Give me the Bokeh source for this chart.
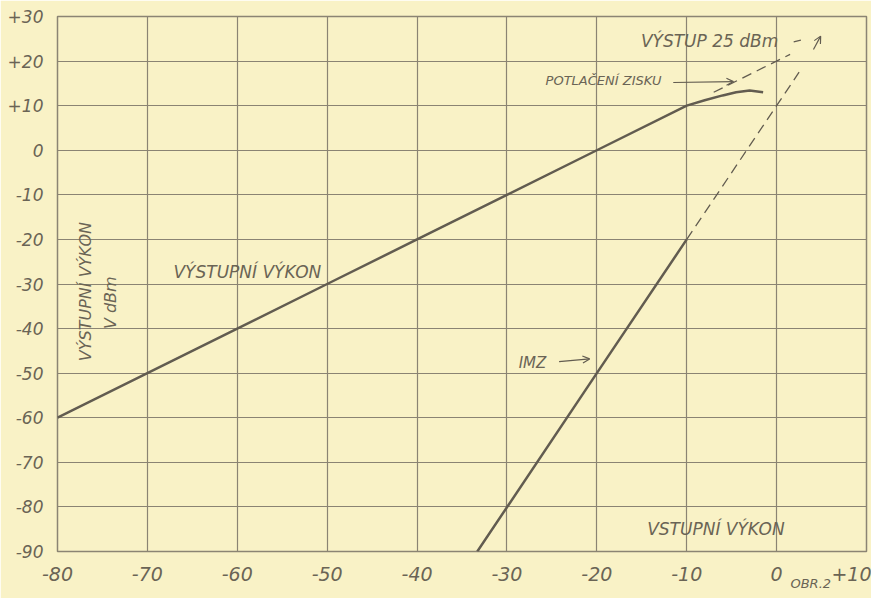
import math
from bokeh.plotting import figure
from bokeh.models import Range1d, FixedTicker, Label, Arrow, OpenHead, LinearAxis
from bokeh.embed import file_html
from bokeh.resources import INLINE

# ---- data ----
x_ticks = [-80, -70, -60, -50, -40, -30, -20, -10, 0, 10]
y_ticks = [-90, -80, -70, -60, -50, -40, -30, -20, -10, 0, 10, 20, 30]
x_tick_labels = {-80: "-80", -70: "-70", -60: "-60", -50: "-50", -40: "-40", -30: "-30",
                 -20: "-20", -10: "-10", 0: "0", 10: "+10"}
y_tick_labels = {30: "+30", 20: "+20", 10: "+10", 0: "0", -10: "-10", -20: "-20", -30: "-30",
                 -40: "-40", -50: "-50", -60: "-60", -70: "-70", -80: "-80", -90: "-90"}
fig_note = {3.8: "OBR.2"}

# output power (VÝSTUPNÍ VÝKON) with gain compression
out_in = [-80, -70, -60, -50, -40, -30, -20, -10, -8, -6, -4.5, -3, -1.5]
out_pw = [-60, -50, -40, -30, -20, -10, 0, 10, 11.2, 12.3, 13.0, 13.4, 13.0]
# linear extrapolation of output (dashed)
ext_in = [-7, 1.5]
ext_pw = [13, 21.5]
# intermodulation products (IMZ)
imz_in = [-33.3, -20, -10]
imz_pw = [-90, -50, -20]
# IMZ extrapolation (dashed)
imzx_in = [-10, 0, 2.5]
imzx_pw = [-20, 10, 17.5]

BG = "#f9f2c6"
GRID = "#8b8473"
INK = "#625c50"
TXT = "#6a6455"
FONT = "DejaVu Sans"

p = figure(width=871, height=598, x_range=Range1d(-80, 10), y_range=Range1d(-90, 30),
           min_border_left=57, min_border_right=5, min_border_top=16, min_border_bottom=47,
           output_backend="svg", toolbar_location=None)
p.background_fill_color = BG
p.border_fill_color = BG
p.outline_line_color = GRID
p.outline_line_width = 1.5

note_axis = LinearAxis()
p.add_layout(note_axis, "below")

for ax, ticks, labs in ((p.xaxis[0], x_ticks, x_tick_labels), (p.yaxis[0], y_ticks, y_tick_labels),
                        (note_axis, list(fig_note.keys()), fig_note)):
    ax.ticker = FixedTicker(ticks=ticks)
    ax.major_label_overrides = labs
    ax.axis_line_color = None
    ax.major_tick_line_color = None
    ax.minor_tick_line_color = None
    ax.major_tick_out = 0
    ax.major_tick_in = 0
    ax.major_label_text_font = FONT
    ax.major_label_text_font_style = "italic"
    ax.major_label_text_color = TXT
p.xaxis[0].major_label_text_font_size = "19px"
p.yaxis[0].major_label_text_font_size = "17px"
p.xaxis[0].major_label_standoff = 15
p.yaxis[0].major_label_standoff = 14
note_axis.major_label_text_font_size = "13px"
note_axis.major_label_standoff = -8

p.xgrid.ticker = FixedTicker(ticks=x_ticks)
p.ygrid.ticker = FixedTicker(ticks=y_ticks)
for g in (p.xgrid, p.ygrid):
    g.grid_line_color = GRID
    g.grid_line_width = 1.2

p.line(out_in, out_pw, line_color=INK, line_width=2.5)
p.line(ext_in, ext_pw, line_color=INK, line_width=1.3, line_dash="10 6")
p.line(imz_in, imz_pw, line_color=INK, line_width=2.5)
p.line(imzx_in, imzx_pw, line_color=INK, line_width=1.3, line_dash="10 6")

def lab(x, y, text, size="17px", angle=0, align="left", base="middle"):
    p.add_layout(Label(x=x, y=y, text=text, angle=angle,
                       text_align=align, text_baseline=base, text_font=FONT,
                       text_font_style="italic", text_font_size=size, text_color=TXT))

lab(-67.1, -27.4, "VÝSTUPNÍ VÝKON")
lab(-15.1, 24.6, "VÝSTUP  25 dBm")
lab(-25.7, 15.6, "POTLAČENÍ ZISKU", size="13px")
lab(-28.7, -47.8, "IMZ", size="15px")
lab(-14.4, -84.9, "VSTUPNÍ  VÝKON")
lab(-76.9, -31.7, "VÝSTUPNÍ VÝKON", size="16px", angle=math.pi / 2, align="center")
lab(-74.1, -34.2, "V dBm", size="16px", angle=math.pi / 2, align="center")

head = dict(line_color=INK, line_width=1.2, size=7)
p.add_layout(Arrow(end=OpenHead(**head), x_start=-11.5, y_start=15.2, x_end=-4.8, y_end=15.4,
                   line_color=INK, line_width=1.2))
p.add_layout(Arrow(end=OpenHead(**head), x_start=-24.2, y_start=-47.4, x_end=-20.8, y_end=-46.8,
                   line_color=INK, line_width=1.2))
p.add_layout(Arrow(end=OpenHead(**head), x_start=4.1, y_start=22.6, x_end=4.9, y_end=25.6,
                   line_color=INK, line_width=1.2))
p.add_layout(Arrow(end=None, x_start=1.9, y_start=24.3, x_end=2.7, y_end=24.7,
                   line_color=INK, line_width=1.2))

html = file_html(p, INLINE)
html = html.replace("<body>", '<body style="background-color:%s;">' % BG, 1)
open("out.html", "w").write(html)
